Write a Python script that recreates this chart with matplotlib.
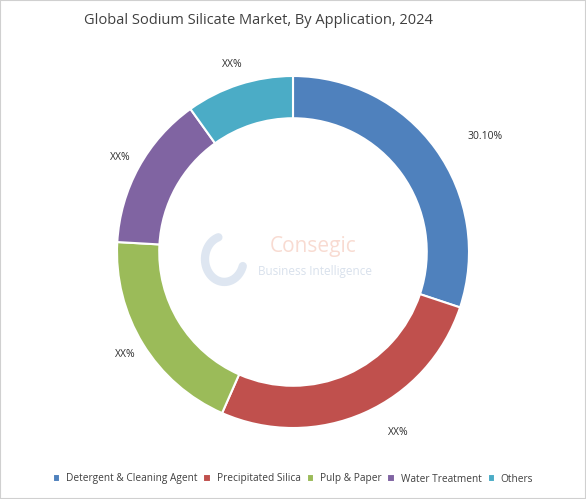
import numpy as np
import matplotlib.pyplot as plt
from matplotlib.patches import Rectangle

plt.rcParams['font.family'] = ['Open Sans', 'DejaVu Sans']

categories = ['Detergent & Cleaning Agent', 'Precipitated Silica', 'Pulp & Paper',
              'Water Treatment', 'Others']
shares = [30.1, 26.5, 19.3, 14.2, 9.9]
labels = ['30.10%', 'XX%', 'XX%', 'XX%', 'XX%']
colors = ['#4f81bd', '#c0504d', '#9bbb59', '#8064a2', '#4bacc6']

W, H = 586, 499
fig = plt.figure(figsize=(W/100, H/100), dpi=100)
fig.patches.append(Rectangle((0, 0), 1, 1, transform=fig.transFigure,
                             fill=False, edgecolor='#d0d0d0', linewidth=1.5))

cx, cy, r = 293, H - 252, 176
ax = fig.add_axes([(cx - r)/W, (cy - r)/H, 2*r/W, 2*r/H])

wedges, texts = ax.pie(shares, labels=labels, colors=colors, startangle=90,
                       counterclock=False, labeldistance=1.12,
                       wedgeprops=dict(width=0.24, edgecolor='white', linewidth=1.5),
                       textprops=dict(fontsize=7.5, color='#303030'))
for t in texts:
    x, y = t.get_position()
    if x > 0:
        t.set_ha('left')
        t.set_position((x + 0.085, y))
    else:
        t.set_ha('center')
    t.set_va('center')
ax.set_xlim(-1, 1)
ax.set_ylim(-1, 1)
ax.set_aspect('equal')

# faint watermark
ax.text(-0.13, 0.03, 'Consegic', fontsize=15, color='#f4c4b4', alpha=0.6,
        ha='left', va='center')
ax.text(-0.2, -0.11, 'Business Intelligence', fontsize=8.5, color='#c8d4e4', alpha=0.7,
        ha='left', va='center')
theta = np.linspace(0.6*np.pi, 1.9*np.pi, 60)
ax.plot(-0.39 + 0.11*np.cos(theta), -0.04 + 0.13*np.sin(theta), color='#c8d6e8',
        linewidth=6, alpha=0.6, solid_capstyle='round')

fig.text(258/W, 1 - 20/H, 'Global Sodium Silicate Market, By Application, 2024',
         ha='center', va='center', fontsize=10.5, color='#404040')

fig.legend(wedges, categories, loc='center', bbox_to_anchor=(0.5, 1 - 479/H),
           ncol=5, frameon=False, fontsize=7.3, handlelength=0.7, handleheight=0.7,
           columnspacing=0.6, handletextpad=0.6, labelcolor='#404040')

fig.savefig('out.png', dpi=100)
